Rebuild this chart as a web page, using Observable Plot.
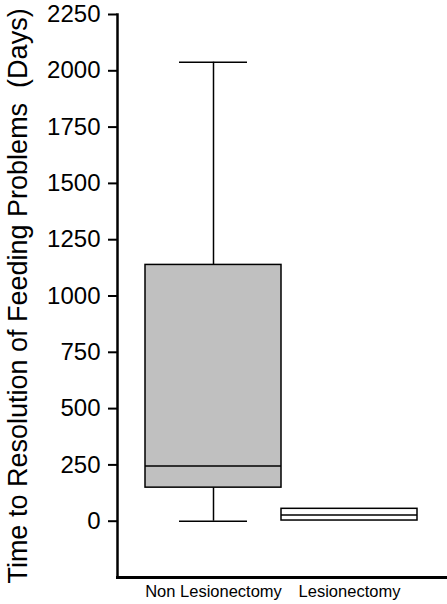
<!DOCTYPE html>
<html>
<head>
<meta charset="utf-8">
<script src="https://cdn.jsdelivr.net/npm/d3@7"></script>
<script src="https://cdn.jsdelivr.net/npm/@observablehq/plot@0.6"></script>
<style>
  html, body { margin: 0; padding: 0; background: #fff; }
  #chart svg { display: block; }
</style>
</head>
<body>
<div id="chart"></div>
<script>
const groups = ["Non Lesionectomy", "Lesionectomy"];
const q1Values = [149, 3];
const medianValues = [245, 28];
const q3Values = [1138, 55];
const minValues = [0, null];
const maxValues = [2038, null];
const fills = ["#c0c0c0", "#ffffff"];
const yTicks = [0, 250, 500, 750, 1000, 1250, 1500, 1750, 2000, 2250];
const yTitle = "Time to Resolution of Feeding Problems  (Days)";

const boxes = groups.map((g, i) => ({
  group: g, q1: q1Values[i], median: medianValues[i], q3: q3Values[i],
  min: minValues[i], max: maxValues[i], fill: fills[i]
}));
const whiskered = boxes.filter(d => d.min != null && d.max != null);

const chart = Plot.plot({
  width: 447,
  height: 604,
  marginLeft: 117,
  marginTop: 14,
  marginBottom: 27,
  marginRight: 2,
  style: { fontFamily: "Liberation Sans, Arial, sans-serif", color: "#000", background: "#fff" },
  x: { domain: groups, paddingInner: 0, paddingOuter: 0.2, label: null },
  y: { domain: [-250, 2250], label: null },
  marks: [
    // whiskers
    Plot.ruleX(whiskered, { x: "group", y1: "q3", y2: "max", stroke: "#000", strokeWidth: 1.5 }),
    Plot.ruleX(whiskered, { x: "group", y1: "min", y2: "q1", stroke: "#000", strokeWidth: 1.5 }),
    Plot.tickY(whiskered, { x: "group", y: "max", stroke: "#000", strokeWidth: 1.5, insetLeft: 34, insetRight: 34 }),
    Plot.tickY(whiskered, { x: "group", y: "min", stroke: "#000", strokeWidth: 1.5, insetLeft: 34, insetRight: 34 }),
    // boxes
    Plot.barY(boxes, { x: "group", y1: "q1", y2: "q3", fill: d => d.fill, stroke: "#000", strokeWidth: 1.5 }),
    Plot.tickY(boxes, { x: "group", y: "median", stroke: "#000", strokeWidth: 1.5 }),
    // axes
    Plot.axisY({
      ticks: yTicks, tickFormat: d => String(d), tickSize: 9, tickPadding: 8, fontSize: 24, strokeWidth: 2,
      label: null
    }),
    Plot.text([yTitle], {
      text: d => d, frameAnchor: "left", dx: -99, dy: 0, rotate: -90,
      fontSize: 27, textAnchor: "middle", lineAnchor: "middle", fill: "#000"
    }),
    Plot.axisX({ tickSize: 0, tickPadding: 8, fontSize: 16.5, label: null }),
    Plot.frame({ anchor: "left", strokeWidth: 2.5 }),
    Plot.frame({ anchor: "bottom", strokeWidth: 3 })
  ]
});
chart.querySelectorAll("text").forEach(t => t.setAttribute("fill", "#000"));
document.getElementById("chart").appendChild(chart);
</script>
</body>
</html>
